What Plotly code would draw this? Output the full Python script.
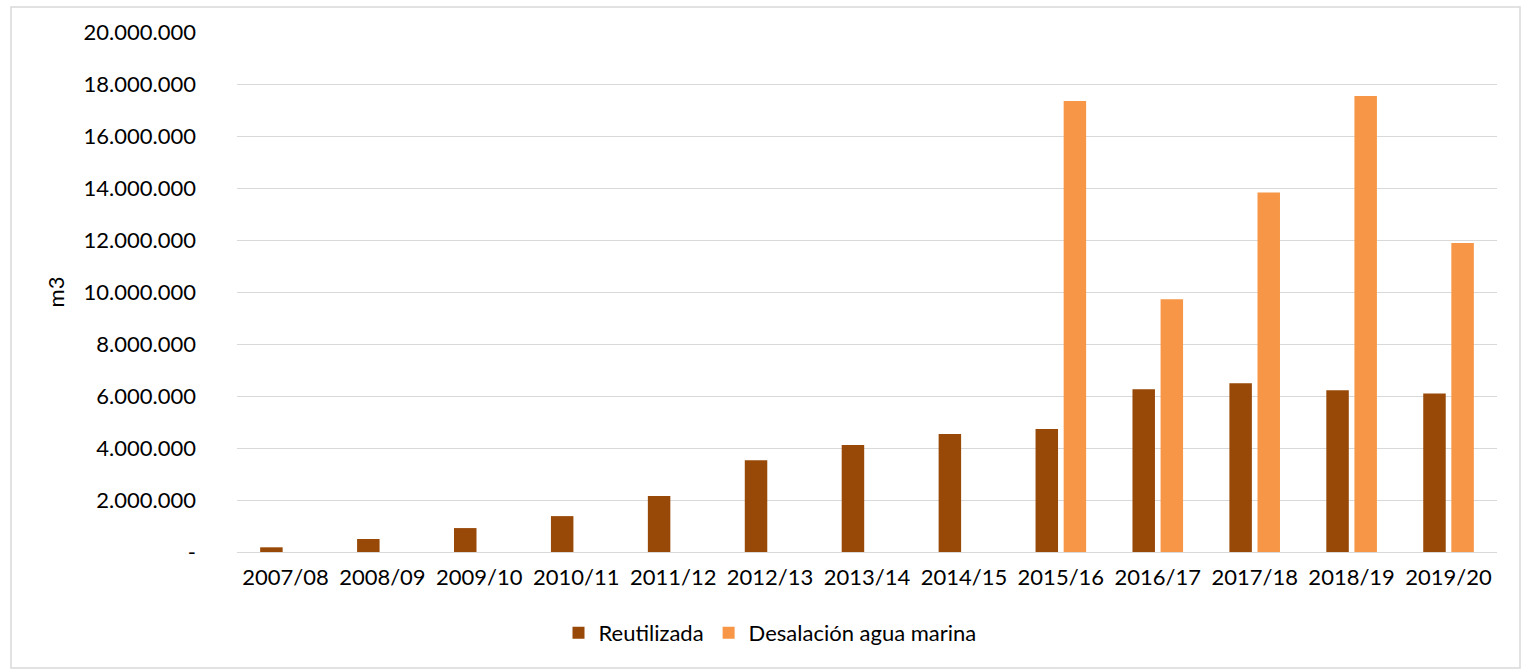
import plotly.graph_objects as go

categories = ["2007/08", "2008/09", "2009/10", "2010/11", "2011/12", "2012/13", "2013/14",
              "2014/15", "2015/16", "2016/17", "2017/18", "2018/19", "2019/20"]
reutilizada = [180000, 500000, 920000, 1380000, 2150000, 3530000, 4120000,
               4540000, 4730000, 6260000, 6490000, 6220000, 6100000]
desalacion = [None, None, None, None, None, None, None,
              None, 17350000, 9720000, 13830000, 17540000, 11880000]
tick_vals = [0, 2000000, 4000000, 6000000, 8000000, 10000000, 12000000,
             14000000, 16000000, 18000000, 20000000]
tick_text = ["-", "2.000.000", "4.000.000", "6.000.000", "8.000.000", "10.000.000",
             "12.000.000", "14.000.000", "16.000.000", "18.000.000", "20.000.000"]

FONT = "Lato"
W, H = 1537, 671
L, R, T, B = 237, 40, 32, 119
pw, ph = W - L - R, H - T - B

fig = go.Figure()
fig.add_trace(go.Bar(x=categories, y=reutilizada, name="Reutilizada",
                     marker=dict(color="#984807", line=dict(width=0))))
fig.add_trace(go.Bar(x=categories, y=desalacion, name="Desalación agua marina",
                     marker=dict(color="#F79646", line=dict(width=0))))

def px_x(x):
    return (x - L) / pw

def px_y(y):
    return (H - B - y) / ph

fig.add_shape(type="rect", xref="paper", yref="paper",
              x0=px_x(11), x1=px_x(1520), y0=px_y(668), y1=px_y(7),
              line=dict(color="#d9d9d9", width=1.5), fillcolor="rgba(0,0,0,0)", layer="below")

fig.update_layout(
    width=W, height=H,
    margin=dict(l=L, r=R, t=T, b=B),
    paper_bgcolor="white", plot_bgcolor="white",
    barmode="group", bargap=0.42, bargroupgap=0.2,
    font=dict(family=FONT, size=22, color="#000000"),
    showlegend=True,
    legend=dict(orientation="h", x=px_x(770), xanchor="center", y=px_y(633), yanchor="middle",
                font=dict(family=FONT, size=22, color="#000000"),
                itemwidth=30, traceorder="normal", entrywidth=0),
    xaxis=dict(type="category", showgrid=False, showline=False, ticks="",
               tickfont=dict(family=FONT, size=22), ticklabelstandoff=10, automargin=False),
    yaxis=dict(range=[0, 20000000], tickvals=tick_vals, ticktext=tick_text,
               showgrid=True, gridcolor="#d9d9d9", gridwidth=1.3,
               zeroline=True, zerolinecolor="#d9d9d9", zerolinewidth=1.3,
               showline=False, ticks="", ticklabelstandoff=40,
               tickfont=dict(family=FONT, size=22), automargin=False,
               title=dict(text="m3", font=dict(family=FONT, size=22), standoff=12)),
)

fig.write_html("out.html")
